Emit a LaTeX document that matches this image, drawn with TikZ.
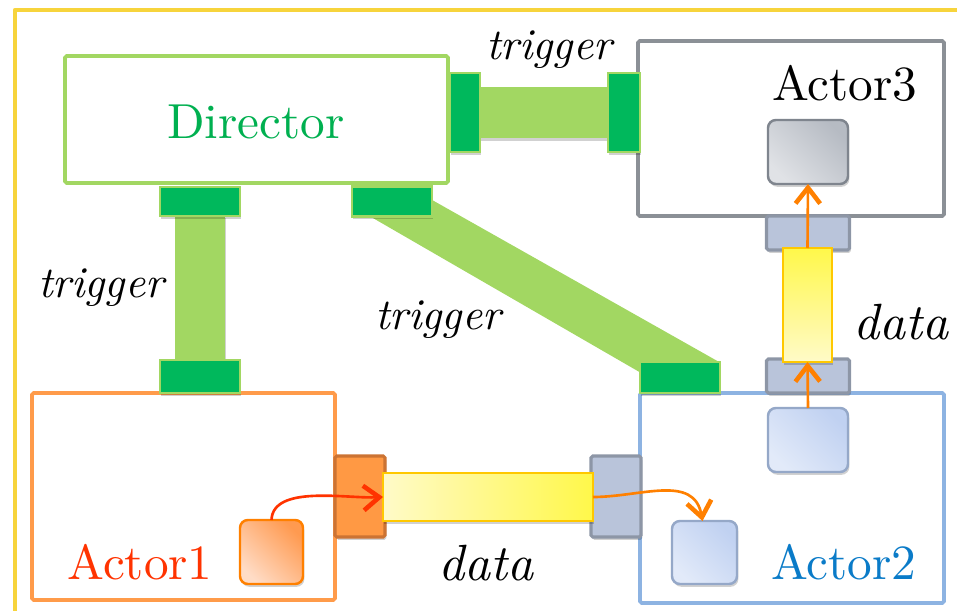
\documentclass[tikz,border=0pt]{standalone}
\usepackage{fontspec}
\setmainfont{lmroman10}[Extension=.otf, UprightFont=*-regular, ItalicFont=*-italic, BoldFont=*-bold]
\usetikzlibrary{arrows.meta,shadows,calc}
\definecolor{framey}{HTML}{F7D43C}
\definecolor{lgreen}{HTML}{A2D762}
\definecolor{pgreen}{HTML}{00B85C}
\definecolor{dirtext}{HTML}{00B050}
\definecolor{a3gray}{HTML}{8B9096}
\definecolor{a2blue}{HTML}{8DB3E2}
\definecolor{a2text}{HTML}{0A7BC8}
\definecolor{a1orange}{HTML}{FF9B4A}
\definecolor{a1text}{HTML}{FF3300}
\definecolor{bportfill}{HTML}{B9C4DA}
\definecolor{bportdraw}{HTML}{8D96A6}
\definecolor{oportfill}{HTML}{FF9944}
\definecolor{oportdraw}{HTML}{CC7333}
\definecolor{ybord}{HTML}{FFC800}
\definecolor{ylight}{HTML}{FFFAC8}
\definecolor{ybright}{HTML}{FFF84A}
\definecolor{blight}{HTML}{E2EAF9}
\definecolor{bdark}{HTML}{C0D1F1}
\definecolor{bdraw}{HTML}{95A8C8}
\definecolor{glight}{HTML}{E0E2E6}
\definecolor{gdark}{HTML}{B6BBC3}
\definecolor{gdraw}{HTML}{7F858E}
\definecolor{olight}{HTML}{FFDCC6}
\definecolor{odark}{HTML}{FF9A50}
\definecolor{odraw}{HTML}{FF8000}
\definecolor{arrorange}{HTML}{FF8000}
\definecolor{arrred}{HTML}{FF3300}
\tikzset{
  sz/.style 2 args={minimum width=#1*0.02cm, minimum height=#2*0.02cm},
  shd/.style={drop shadow={shadow xshift=0.8pt, shadow yshift=-1.6pt, opacity=0.18, fill=black}},
  actorbox/.style={draw, fill=white, line width=2.1pt, rounded corners=1pt},
  gport/.style={fill=pgreen, draw=lgreen, line width=1.2pt, shd},
  gbar/.style={fill=lgreen, shd},
  bport/.style={fill=bportfill, draw=bportdraw, line width=1.8pt, rounded corners=1pt, shd},
  oport/.style={fill=oportfill, draw=oportdraw, line width=1.8pt, rounded corners=1pt, shd},
  vybar/.style={draw=ybord, line width=1.2pt, shd, top color=ybright, bottom color=ylight},
  hybar/.style={draw=ybord, line width=1.2pt, shd, left color=ylight, right color=ybright},
  inner/.style={rounded corners=4.5pt, line width=1.4pt, shd},
  ginner/.style={inner, draw=gdraw, bottom color=glight, top color=gdark, shading angle=-45},
  binner/.style={inner, draw=bdraw, bottom color=blight, top color=bdark, shading angle=-45},
  oinner/.style={inner, draw=odraw, bottom color=olight, top color=odark, shading angle=-45},
  biglabel/.style={font=\fontsize{28}{32}\selectfont},
  tlabel/.style={font=\fontsize{25}{28}\selectfont\itshape},
  dlabel/.style={font=\fontsize{29}{32}\selectfont\itshape},
  flowo/.style={draw=arrorange, line width=1.5pt, -{Straight Barb[length=9pt,width=14pt,line width=2.6pt]}},
  flowr/.style={draw=arrred, line width=1.5pt, -{Straight Barb[length=9pt,width=14pt,line width=2.6pt]}}
}
\begin{document}
\begin{tikzpicture}[x=0.02cm,y=-0.02cm,
  every node/.style={inner sep=0pt, outer sep=0pt}]
\useasboundingbox (0,0) rectangle (957,611);

% outer frame
\draw[framey, line width=2.4pt, line join=round] (15,611) -- (15,10) -- (957,10);

% main boxes
\node[actorbox, draw=lgreen, sz={383}{127}] (dir) at (256.5,119.5) {};
\node[biglabel, text=dirtext] (dirlab) at (256,122) {Director};
\node[actorbox, draw=a3gray, sz={306}{175}] (a3) at (791,128.5) {};
\node[biglabel] (a3lab) at (844.5,83) {Actor3};
\node[actorbox, draw=a2blue, sz={304}{210}] (a2) at (792,498) {};
\node[biglabel, text=a2text] (a2lab) at (843.5,562) {Actor2};
\node[actorbox, draw=a1orange, sz={303}{207}] (a1) at (183.5,496.5) {};
\node[biglabel, text=a1text] (a1lab) at (140,562) {Actor1};

% trigger bars
\node[gbar, sz={128}{51}] (tbar1) at (544,112.5) {};
\node[gbar, sz={50}{146}] (tbar2) at (200,288) {};

% ports (green) and diagonal trigger band
\coordinate (dbrc) at (392,201.5);
\coordinate (a2tlc) at (680,377.5);
\fill[lgreen] ($(dbrc)+(-20,16)$) -- ($(dbrc)+(41,-1)$) -- ($(a2tlc)+(40,-15)$) -- ($(a2tlc)+(-38,-4)$) -- cycle;
\node[gport, sz={80}{30}] (dbr) at (dbrc) {};
\node[gport, sz={80}{31}] (a2tl) at (a2tlc) {};
\node[gport, sz={30}{79}] (dr) at (465,112.5) {};
\node[gport, sz={32}{79}] (a3l) at (624,112.5) {};
\node[gport, sz={80}{29}] (dbl) at (200,201.5) {};
\node[gport, sz={80}{33}] (a1t) at (200,376.5) {};

% data ports and bars
\node[bport, sz={83}{34}] (a3b) at (808,233) {};
\node[bport, sz={83}{34}] (a2t) at (808,376) {};
\node[vybar, sz={49}{114}] (vbar) at (807.5,305) {};
\node[oport, sz={50}{81}] (a1r) at (360,496.5) {};
\node[bport, sz={50}{81}] (a2l) at (616,496.5) {};
\node[hybar, sz={210}{48}] (hbar) at (488,497) {};

% inner actors
\node[ginner, sz={80}{64}] (a3in) at (808,152) {};
\node[binner, sz={80}{64}] (a2in1) at (808,440) {};
\node[binner, sz={65}{63}] (a2in2) at (704.5,552.5) {};
\node[oinner, sz={63}{64}] (a1in) at (271.5,552) {};

% labels
\node[tlabel] (t1) at (549,50) {trigger};
\node[tlabel] (t2) at (101,288) {trigger};
\node[tlabel] (t3) at (438,320) {trigger};
\node[dlabel] (d1) at (901,322) {data};
\node[dlabel] (d2) at (486,563) {data};

% arrows
\draw[flowo] (a2in1.north) -- (vbar.south);
\draw[flowo] (vbar.north) -- (a3in.south);
\draw[flowr] (a1in.north) to[out=88,in=183,looseness=0.8] (hbar.west);
\draw[flowo] (hbar.east) to[out=0,in=100,looseness=1.1] ($(a2in2.north)+(-2,0)$);
\end{tikzpicture}
\end{document}
